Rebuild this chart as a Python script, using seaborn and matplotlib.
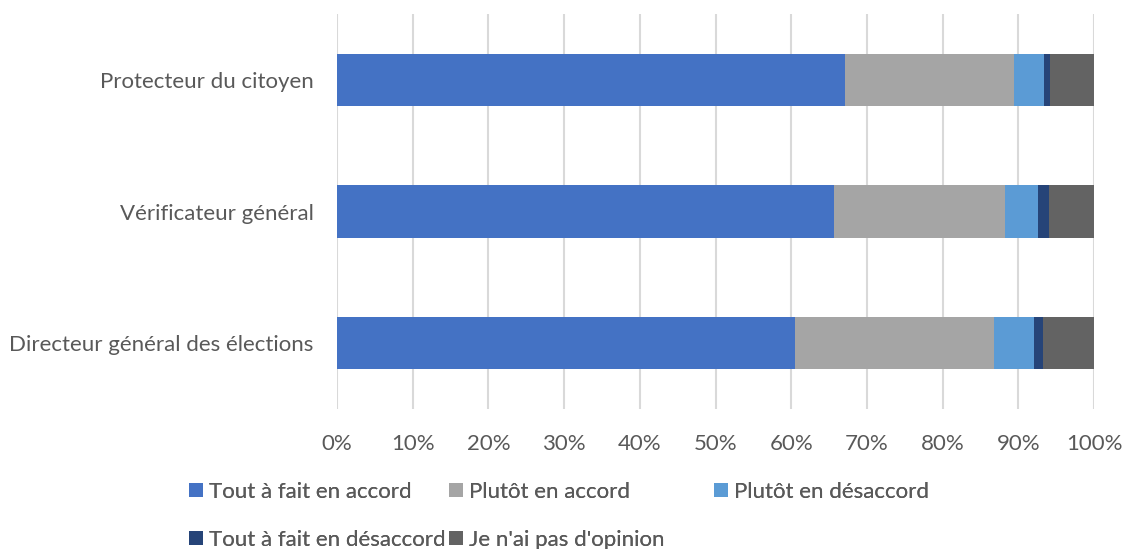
import matplotlib
matplotlib.use("Agg")
import matplotlib.pyplot as plt
import seaborn as sns
import pandas as pd
import numpy as np
from matplotlib.patches import Patch

categories = ["Protecteur du citoyen", "Vérificateur général", "Directeur général des élections"]
series_names = ["Tout à fait en accord", "Plutôt en accord", "Plutôt en désaccord",
                "Tout à fait en désaccord", "Je n'ai pas d'opinion"]
tout_accord = [67.1, 65.6, 60.5]
plutot_accord = [22.3, 22.7, 26.3]
plutot_desaccord = [4.0, 4.3, 5.3]
tout_desaccord = [0.8, 1.4, 1.2]
sans_opinion = [5.8, 6.0, 6.7]
colors = ["#4472C4", "#A5A5A5", "#5B9BD5", "#264478", "#636363"]
xticks = [0, 10, 20, 30, 40, 50, 60, 70, 80, 90, 100]

sns.set_theme(style="white")
plt.rcParams['font.family'] = ['Lato', 'DejaVu Sans']

values = [tout_accord, plutot_accord, plutot_desaccord, tout_desaccord, sans_opinion]
cum = np.cumsum(np.array(values), axis=0)

fig = plt.figure(figsize=(11.25, 5.49), dpi=100)
ax = fig.add_axes([337/1125, 1 - 409/549, (1094 - 337)/1125, (409 - 14)/549])

for i in reversed(range(len(series_names))):
    df = pd.DataFrame({"cat": categories, "val": cum[i]})
    sns.barplot(data=df, x="val", y="cat", orient="h", color=colors[i],
                width=0.395, ax=ax, saturation=1, edgecolor="none", zorder=3)

ax.set_xlim(0, 100)
ax.set_ylim(2.5, -0.5)
ax.set_xticks(xticks)
ax.set_xticklabels([f"{t}%" for t in xticks])
ax.xaxis.grid(True, color="#D9D9D9", linewidth=1.5, zorder=0)
ax.set_axisbelow(True)
for s in ax.spines.values():
    s.set_visible(False)
ax.set_xlabel("")
ax.set_ylabel("")
ax.tick_params(axis="both", length=0, colors="#595959", labelsize=16)
ax.tick_params(axis="x", pad=18)
ax.tick_params(axis="y", pad=17)

handles = [Patch(facecolor=c, edgecolor="none") for c in colors]
columns = [([0, 3], 189), ([1, 4], 449), ([2], 714)]
for idx, xpos in columns:
    leg = fig.legend([handles[i] for i in idx], [series_names[i] for i in idx],
                     ncol=1, loc="upper left", bbox_to_anchor=(xpos/1125, 1 - 482/549),
                     frameon=False, fontsize=16, handlelength=0.62, handleheight=0.62,
                     handletextpad=0.3, labelspacing=1.25,
                     labelcolor="#595959", borderpad=0, borderaxespad=0)
    fig.add_artist(leg)

fig.savefig("out.png", dpi=100, facecolor="white")
